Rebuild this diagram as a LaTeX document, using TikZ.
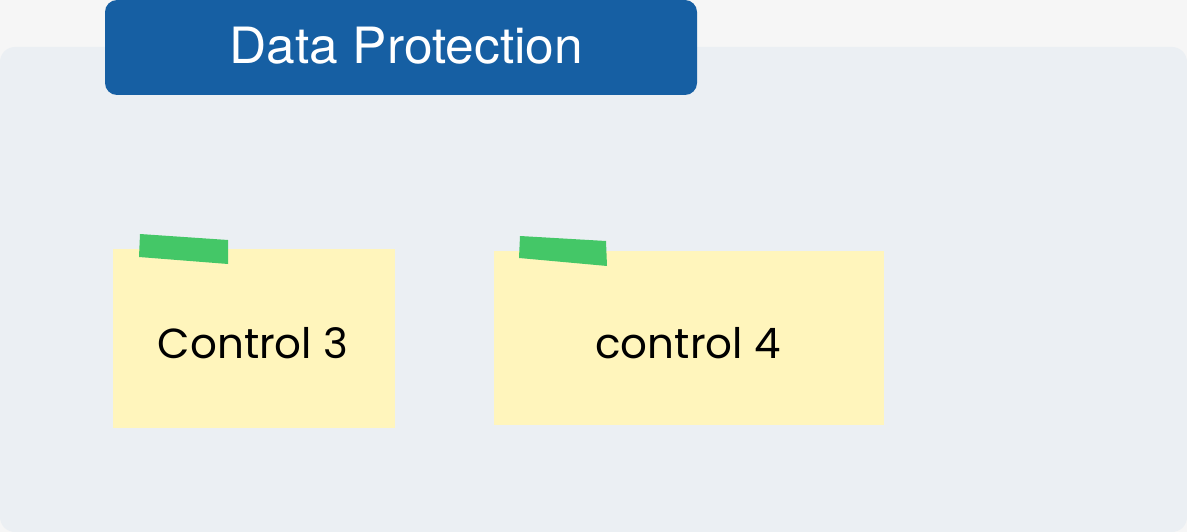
\documentclass[tikz,border=0pt]{standalone}
\usepackage{fontspec}
\setmainfont{Poppins}
\newfontfamily\headfont{TeX Gyre Heros}
\definecolor{pagebg}{HTML}{F6F6F6}
\definecolor{panelbg}{HTML}{EBEFF3}
\definecolor{headblue}{HTML}{165FA3}
\definecolor{noteyellow}{HTML}{FFF5BC}
\definecolor{tapegreen}{HTML}{44C767}

\begin{document}
\begin{tikzpicture}[x=1pt, y=-1pt]
	\tikzstyle{every node}=[align=center, inner sep=1pt]
	\tikzstyle{note}=[fill=noteyellow]
	\tikzstyle{notetext}=[anchor=base, font=\fontsize{42}{46}\selectfont]
	\tikzstyle{tape}=[fill=tapegreen]

	\useasboundingbox[fill=pagebg] (0,0) rectangle (1187,532);
	\fill[panelbg, rounded corners=15] (0,47) rectangle (1187,532);

	\node[fill=headblue, rounded corners=12, minimum width=592, minimum height=95] (head) at (401,47.5) {};
	\node[anchor=base, text=white, font=\headfont\fontsize{50}{54}\selectfont] (headtext) at (406.5,64) {\scalebox{1.03}[1]{Data Protection}};

	\node[note, minimum width=282, minimum height=179] (c3) at (254,338.5) {};
	\node[note, minimum width=390, minimum height=174] (c4) at (689,338) {};
	\node[notetext] (c3text) at (253,358) {Control 3};
	\node[notetext] (c4text) at (688,358) {control 4};

	\fill[tape] (140,234) -- (228,240) -- (228,264) -- (139,257) -- cycle;
	\fill[tape] (520,236) -- (606,241) -- (607,266) -- (519,258) -- cycle;
\end{tikzpicture}
\end{document}
